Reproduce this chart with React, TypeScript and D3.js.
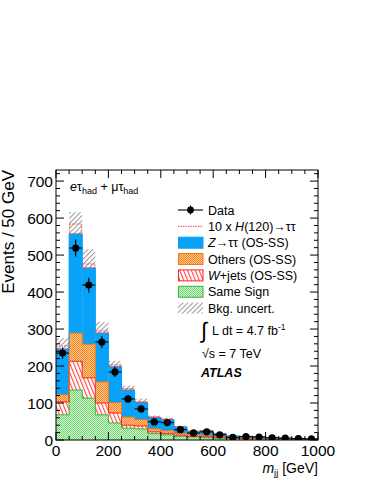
import React from 'react';
import * as d3 from 'd3';

const W = 374;
const H = 484;

// m_jj bins, 50 GeV wide
const binLow = [0, 50, 100, 150, 200, 250, 300, 350, 400, 450, 500, 550, 600, 650, 700, 750, 800, 850, 900, 950];
const binWidth = 50;

// stacked backgrounds (events / bin), bottom to top
const sameSign = [68, 135, 113, 68, 46, 32, 30, 17, 14, 10, 8, 6, 5, 4, 3, 3, 2, 2, 1, 1];
const wJets = [35, 78, 55, 32, 27, 8, 8, 5, 4, 3, 2, 3, 2, 1, 1, 1, 1, 0, 1, 0];
const others = [19, 76, 91, 57, 28, 22, 17, 8, 7, 5, 4, 4, 3, 2, 2, 1, 1, 1, 1, 1];
const zTauTau = [124, 268, 206, 132, 97, 73, 46, 31, 30, 17, 9, 12, 7, 4, 4, 4, 3, 2, 1, 1];
const higgs10 = [8, 27, 11, 6, 5, 4, 3, 2, 2, 1, 1, 1, 1, 0, 0, 0, 0, 0, 0, 0];
const bkgUnc = [29, 59, 51, 30, 16, 12, 11, 5, 5, 4, 3, 3, 2, 1, 1, 1, 1, 1, 1, 1];

const dataVals = [235, 519, 419, 265, 184, 111, 84, 49, 47, 28, 19, 22, 14, 7, 9, 8, 6, 5, 4, 3];
const dataErr = [15, 23, 20, 16, 14, 11, 9, 7, 7, 5, 4.5, 4.7, 3.7, 2.6, 3, 2.8, 2.4, 2.2, 2, 1.7];

const yMajor = [0, 100, 200, 300, 400, 500, 600, 700];
const xMajor = [0, 200, 400, 600, 800, 1000];

const x = d3.scaleLinear().domain([0, 1000]).range([56, 318]);
const y = d3.scaleLinear().domain([0, 730]).range([440, 170]);

const keys = ['sameSign', 'wJets', 'others', 'zTauTau'];
const rows = binLow.map((lo, i) => ({
  lo,
  sameSign: sameSign[i],
  wJets: wJets[i],
  others: others[i],
  zTauTau: zTauTau[i],
}));
const series = d3.stack<any>().keys(keys)(rows);

const fills: Record<string, string> = {
  sameSign: 'url(#greenChk)',
  wJets: 'url(#redHatch)',
  others: 'url(#orangeChk)',
  zTauTau: '#08a2f8',
};
const strokes: Record<string, string> = {
  sameSign: '#3cb43c',
  wJets: '#ff2020',
  others: '#f07818',
  zTauTau: '#08a2f8',
};

const font = 'Liberation Sans, Arial, Helvetica, sans-serif';

function stepPath(tops: number[]) {
  const pts: [number, number][] = [];
  binLow.forEach((lo, i) => {
    pts.push([x(lo), y(tops[i])]);
    pts.push([x(lo + binWidth), y(tops[i])]);
  });
  return d3.line()(pts) || '';
}

const legendRows = [
  { label: 'Data', kind: 'data' },
  { label: 'higgs', kind: 'higgs' },
  { label: 'ztt', kind: 'zTauTau' },
  { label: 'Others (OS-SS)', kind: 'others' },
  { label: 'wjets', kind: 'wJets' },
  { label: 'Same Sign', kind: 'sameSign' },
  { label: 'Bkg. uncert.', kind: 'unc' },
];

const App = () => {
  const total = series[series.length - 1].map((d) => d[1]);
  const minorY = d3.range(0, 731, 20);
  const minorX = d3.range(0, 1001, 50);

  const legendLabel = (kind: string, label: string) => {
    if (kind === 'higgs')
      return (
        <>
          10 x <tspan fontStyle="italic">H</tspan>(120)→ττ
        </>
      );
    if (kind === 'zTauTau')
      return (
        <>
          <tspan fontStyle="italic">Z</tspan>→ττ (OS-SS)
        </>
      );
    if (kind === 'wJets')
      return (
        <>
          <tspan fontStyle="italic">W</tspan>+jets (OS-SS)
        </>
      );
    return label;
  };

  return (
    <svg width={W} height={H} style={{ position: 'absolute', left: 0, top: 0, background: '#fff' }} fontFamily={font}>
      <defs>
        <pattern id="orangeChk" width="2" height="2" patternUnits="userSpaceOnUse">
          <rect width="2" height="2" fill="#ffc890" />
          <rect width="1" height="1" fill="#f7841f" />
          <rect x="1" y="1" width="1" height="1" fill="#f7841f" />
        </pattern>
        <pattern id="greenChk" width="2" height="2" patternUnits="userSpaceOnUse">
          <rect width="2" height="2" fill="#d2f4d2" />
          <rect width="1" height="1" fill="#72d872" />
          <rect x="1" y="1" width="1" height="1" fill="#72d872" />
        </pattern>
        <pattern id="redHatch" width="3.6" height="10" patternUnits="userSpaceOnUse" patternTransform="rotate(-22)">
          <rect width="3.6" height="10" fill="#fff" />
          <line x1="0.6" y1="0" x2="0.6" y2="10" stroke="#ff3030" strokeWidth="1" />
        </pattern>
        <pattern id="greyHatch" width="3.5" height="10" patternUnits="userSpaceOnUse" patternTransform="rotate(45)">
          <rect width="3.5" height="10" fill="#fff" />
          <line x1="0.5" y1="0" x2="0.5" y2="10" stroke="#8a8a8a" strokeWidth="0.9" />
        </pattern>
        <clipPath id="plotClip">
          <rect x={56} y={170} width={262} height={270} />
        </clipPath>
      </defs>

      <g clipPath="url(#plotClip)">
        {/* background uncertainty band */}
        {binLow.map((lo, i) => (
          <rect
            key={'u' + i}
            x={x(lo)}
            width={x(lo + binWidth) - x(lo)}
            y={y(total[i] + bkgUnc[i])}
            height={y(total[i] - bkgUnc[i]) - y(total[i] + bkgUnc[i])}
            fill="url(#greyHatch)"
          />
        ))}
        {/* stacked backgrounds, drawn top-down so lower ones sit on top */}
        {series
          .slice()
          .reverse()
          .map((s) => (
            <g key={s.key}>
              {s.map((d, i) => (
                <rect
                  key={i}
                  x={x(binLow[i])}
                  width={x(binLow[i] + binWidth) - x(binLow[i]) + 0.3}
                  y={y(d[1])}
                  height={y(0) - y(d[1])}
                  fill={fills[s.key]}
                />
              ))}
            </g>
          ))}
        {series.map((s) => (
          <path
            key={'o' + s.key}
            d={stepPath(s.map((d) => d[1]))}
            fill="none"
            stroke={strokes[s.key]}
            strokeWidth={1}
          />
        ))}
        {/* 10 x H(120) on top of the stack */}
        {binLow.map((lo, i) =>
          higgs10[i] > 0 ? (
            <rect
              key={'h' + i}
              x={x(lo) + 0.5}
              width={x(lo + binWidth) - x(lo) - 1}
              y={y(total[i] + higgs10[i])}
              height={y(total[i]) - y(total[i] + higgs10[i])}
              fill="none"
              stroke="#ff4040"
              strokeWidth={0.9}
              strokeDasharray="1.5,1"
            />
          ) : null
        )}
        {/* data */}
        {binLow.map((lo, i) => {
          const cx = x(lo + binWidth / 2);
          const cy = y(dataVals[i]);
          return (
            <g key={'d' + i}>
              <line x1={x(lo)} x2={x(lo + binWidth)} y1={cy} y2={cy} stroke="#000" strokeWidth={1.1} />
              <line x1={cx} x2={cx} y1={y(dataVals[i] + dataErr[i])} y2={y(Math.max(0, dataVals[i] - dataErr[i]))} stroke="#000" strokeWidth={1.1} />
              <circle cx={cx} cy={cy} r={3.6} fill="#000" />
            </g>
          );
        })}
      </g>

      {/* frame and ticks */}
      <rect x={56} y={170} width={262} height={270} fill="none" stroke="#000" strokeWidth={1} />
      {minorY.map((v) => {
        const len = v % 100 === 0 ? 8 : 4;
        return (
          <g key={'yt' + v}>
            <line x1={56} x2={56 + len} y1={y(v)} y2={y(v)} stroke="#000" />
            <line x1={318} x2={318 - len} y1={y(v)} y2={y(v)} stroke="#000" />
          </g>
        );
      })}
      {minorX.map((v) => {
        const len = v % 200 === 0 ? 8 : 4;
        return (
          <g key={'xt' + v}>
            <line x1={x(v)} x2={x(v)} y1={440} y2={440 - len} stroke="#000" />
            <line x1={x(v)} x2={x(v)} y1={170} y2={170 + len} stroke="#000" />
          </g>
        );
      })}
      {yMajor.map((v) => (
        <text key={'yl' + v} x={53} y={y(v) + 5.5} textAnchor="end" fontSize={15.5}>
          {v}
        </text>
      ))}
      {xMajor.map((v) => (
        <text key={'xl' + v} x={x(v)} y={456} textAnchor="middle" fontSize={15.5}>
          {v}
        </text>
      ))}
      <text transform="translate(14,170) rotate(-90)" textAnchor="end" fontSize={17}>
        Events / 50 GeV
      </text>
      <text x={318} y={473} textAnchor="end" fontSize={14}>
        <tspan fontStyle="italic">m</tspan>
        <tspan fontSize={9.5} dy={3}>jj</tspan>
        <tspan dy={-3}> [GeV]</tspan>
      </text>

      {/* channel label */}
      <text x={70} y={191} fontSize={12.5}>
        <tspan fontStyle="italic">e</tspan>τ<tspan fontSize={9} dy={3}>had</tspan>
        <tspan dy={-3}> + μτ</tspan>
        <tspan fontSize={9} dy={3}>had</tspan>
      </text>

      {/* legend */}
      {legendRows.map((r, i) => {
        const cy = 210 + i * 16.35;
        let marker: React.ReactNode = null;
        if (r.kind === 'data') {
          marker = (
            <>
              <line x1={178} x2={203} y1={cy} y2={cy} stroke="#000" strokeWidth={1.1} />
              <line x1={190.5} x2={190.5} y1={cy - 4.5} y2={cy + 4.5} stroke="#000" strokeWidth={1.1} />
              <circle cx={190.5} cy={cy} r={3.4} fill="#000" />
            </>
          );
        } else if (r.kind === 'higgs') {
          marker = <line x1={178} x2={203} y1={cy} y2={cy} stroke="#ff4040" strokeWidth={1} strokeDasharray="1.5,1" />;
        } else if (r.kind === 'unc') {
          marker = <rect x={178} y={cy - 5.5} width={25} height={11} fill="url(#greyHatch)" />;
        } else {
          marker = (
            <rect x={178.5} y={cy - 5.5} width={24.5} height={11} fill={fills[r.kind]} stroke={strokes[r.kind]} strokeWidth={1} />
          );
        }
        return (
          <g key={'lg' + i}>
            {marker}
            <text x={208} y={cy + 4.5} fontSize={12.5}>
              {legendLabel(r.kind, r.label)}
            </text>
          </g>
        );
      })}

      <text x={201} y={338} fontSize={22} fontWeight={300}>∫</text>
      <text x={212} y={335} fontSize={12.5}>
        L dt = 4.7 fb<tspan fontSize={8.5} dy={-5}>-1</tspan>
      </text>
      <text x={202} y={358} fontSize={12.5}>√s = 7 TeV</text>
      <text x={201} y={377} fontSize={12.5} fontWeight="bold" fontStyle="italic">ATLAS</text>
    </svg>
  );
};

export default App;
